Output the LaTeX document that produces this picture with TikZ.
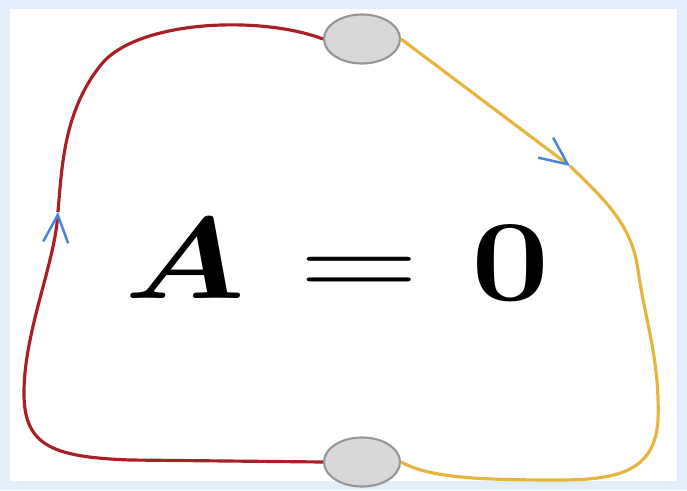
\documentclass[tikz,border=0pt]{standalone}
\usepackage{amsmath, amssymb}
\usepackage{graphicx}
\usetikzlibrary{shapes.geometric, arrows.meta}
\definecolor{kurverot}{RGB}{168,32,38}
\definecolor{kurvegelb}{RGB}{232,180,64}
\definecolor{pfeilblau}{RGB}{72,132,222}
\definecolor{knotengrau}{RGB}{216,216,218}
\definecolor{randgrau}{RGB}{150,150,150}
\definecolor{rahmenblau}{RGB}{226,238,250}
\newcommand{\gross}[1]{\scalebox{3.18}[2.65]{#1}}

\begin{document}
\begin{tikzpicture}[x=0.2mm, y=-0.2mm, font=\Huge,
	knoten/.style={ellipse, draw=randgrau, fill=knotengrau, line width=1.2pt, minimum width=15.2mm, minimum height=9.8mm, inner sep=0pt},
	rotlinie/.style={kurverot, line width=1.8pt},
	gelblinie/.style={kurvegelb, line width=1.8pt},
	spitze/.style={-{Straight Barb[color=pfeilblau, length=5.5mm, width=5mm, line width=1.4pt]}}]
		%Rahmen zeichnen
		\fill[rahmenblau] (0,0) rectangle (687,490);
		\fill[white] (10,9) rectangle (677,481);
		\useasboundingbox (0,0) rectangle (687,490);
		% Knoten
		\node[knoten] (oben) at (362,39) {};
		\node[knoten] (unten) at (362,462) {};
		\coordinate (pfeillinks) at (58,212);
		\coordinate (pfeilrechts) at (570,166);
		% linke Kurve
		\draw[rotlinie, spitze] (unten.west) -- (130,460) .. controls (50,457) and (23,445) .. (24,390)
			.. controls (25,330) and (54,265) .. (pfeillinks);
		\draw[rotlinie] (pfeillinks) .. controls (62,165) and (64,112) .. (100,66)
			.. controls (135,20) and (260,15) .. (oben.west);
		% rechte Kurve
		\draw[gelblinie, spitze] (oben.east) -- (pfeilrechts);
		\draw[gelblinie] (pfeilrechts) .. controls (605,200) and (632,225) .. (638,270)
			.. controls (645,320) and (660,360) .. (658,420)
			.. controls (655,470) and (620,480) .. (560,480)
			.. controls (480,480) and (430,478) .. (unten.east);
		% Gleichung
		\node[anchor=base] (lhs) at (185,298) {\gross{$\boldsymbol{A}$}};
		\node[anchor=base] (eq) at (359,298) {\scalebox{3.8}[2.65]{$=$}};
		\node[anchor=base] (rhs) at (511,300) {\gross{$\mathbf{0}$}};
\end{tikzpicture}
\end{document}
